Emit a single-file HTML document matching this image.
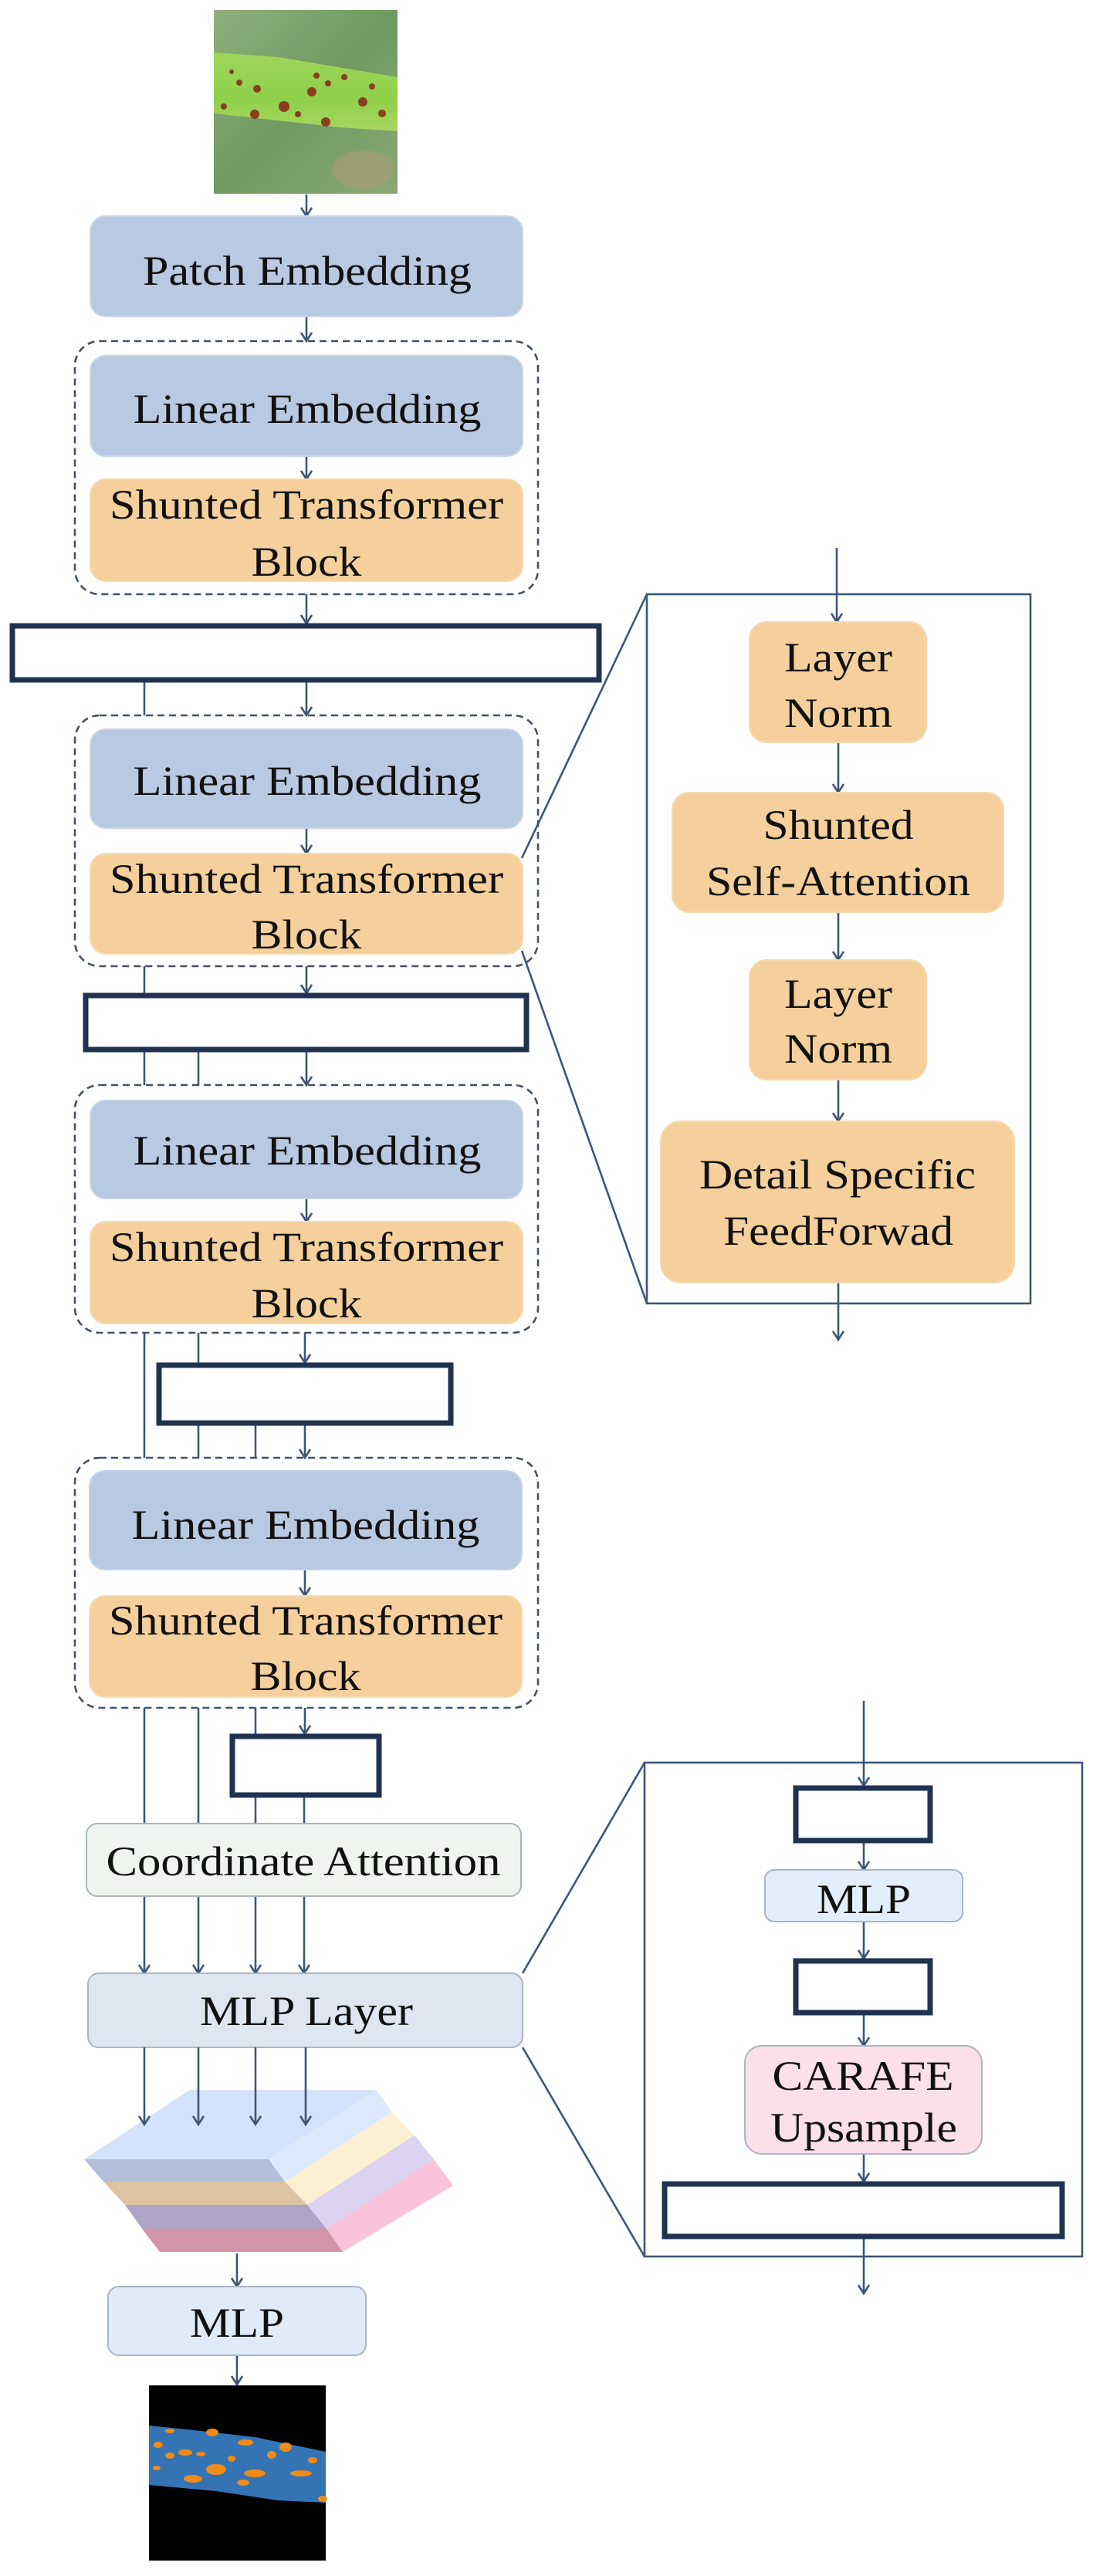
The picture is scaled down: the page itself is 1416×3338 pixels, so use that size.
<!DOCTYPE html>
<html><head><meta charset="utf-8"><style>
html,body{margin:0;padding:0;background:#fff;}
svg{display:block;}
text{font-family:"Liberation Serif",serif;fill:#111;}
</style></head><body>
<svg width="1416" height="3338" viewBox="0 0 1416 3338" xmlns="http://www.w3.org/2000/svg">
<defs>
<marker id="ah" markerWidth="16" markerHeight="18" refX="13" refY="8" orient="auto" markerUnits="userSpaceOnUse" viewBox="0 0 16 16">
<polyline points="2,1 13,8 2,15" fill="none" stroke="#3d5676" stroke-width="2.6"/>
</marker>
<linearGradient id="bg" x1="0" y1="0" x2="1" y2="1">
<stop offset="0" stop-color="#8fb07c"/><stop offset="0.5" stop-color="#6f9a62"/><stop offset="1" stop-color="#8aa872"/>
</linearGradient>
<linearGradient id="leafg" x1="0" y1="0" x2="0" y2="1">
<stop offset="0" stop-color="#9ed65a"/><stop offset="0.6" stop-color="#8fd04a"/><stop offset="1" stop-color="#a9d760"/>
</linearGradient>
</defs>
<g stroke="#3d5676" stroke-width="2.6" fill="none">
<line x1="397" y1="252" x2="397" y2="280" marker-end="url(#ah)"/>
<line x1="397" y1="410" x2="397" y2="442" marker-end="url(#ah)"/>
<line x1="397" y1="591" x2="397" y2="621" marker-end="url(#ah)"/>
<line x1="397" y1="770" x2="397" y2="808" marker-end="url(#ah)"/>
<line x1="397" y1="884" x2="397" y2="927" marker-end="url(#ah)"/>
<line x1="397" y1="1073" x2="397" y2="1106" marker-end="url(#ah)"/>
<line x1="397" y1="1252" x2="397" y2="1287" marker-end="url(#ah)"/>
<line x1="397" y1="1363" x2="397" y2="1406" marker-end="url(#ah)"/>
<line x1="397" y1="1553" x2="397" y2="1583" marker-end="url(#ah)"/>
<line x1="395" y1="1727" x2="395" y2="1766" marker-end="url(#ah)"/>
<line x1="395" y1="1847" x2="395" y2="1889" marker-end="url(#ah)"/>
<line x1="395" y1="2034" x2="395" y2="2068" marker-end="url(#ah)"/>
<line x1="395" y1="2213" x2="395" y2="2247" marker-end="url(#ah)"/>
<line x1="187" y1="884" x2="187" y2="927"/>
<line x1="187" y1="1252" x2="187" y2="1287"/>
<line x1="187" y1="1363" x2="187" y2="1406"/>
<line x1="257" y1="1363" x2="257" y2="1406"/>
<line x1="187" y1="1727" x2="187" y2="1889"/>
<line x1="257" y1="1727" x2="257" y2="1766"/>
<line x1="257" y1="1847" x2="257" y2="1889"/>
<line x1="331" y1="1847" x2="331" y2="1889"/>
<line x1="187" y1="2213" x2="187" y2="2363"/>
<line x1="257" y1="2213" x2="257" y2="2363"/>
<line x1="331" y1="2213" x2="331" y2="2247"/>
<line x1="331" y1="2328" x2="331" y2="2363"/>
<line x1="394" y1="2328" x2="394" y2="2363"/>
<line x1="187" y1="2457" x2="187" y2="2557" marker-end="url(#ah)"/>
<line x1="257" y1="2457" x2="257" y2="2557" marker-end="url(#ah)"/>
<line x1="331" y1="2457" x2="331" y2="2557" marker-end="url(#ah)"/>
<line x1="394" y1="2457" x2="394" y2="2557" marker-end="url(#ah)"/>
<line x1="307" y1="2920" x2="307" y2="2963" marker-end="url(#ah)"/>
<line x1="307" y1="3052" x2="307" y2="3090" marker-end="url(#ah)"/>
<line x1="1084" y1="710" x2="1084" y2="806" marker-end="url(#ah)"/>
<line x1="1086" y1="962" x2="1086" y2="1027" marker-end="url(#ah)"/>
<line x1="1086" y1="1182" x2="1086" y2="1244" marker-end="url(#ah)"/>
<line x1="1086" y1="1399" x2="1086" y2="1453" marker-end="url(#ah)"/>
<line x1="1086" y1="1662" x2="1086" y2="1736" marker-end="url(#ah)"/>
<rect x="838" y="770" width="497" height="919"/>
<line x1="676" y1="1112" x2="838" y2="770"/>
<line x1="676" y1="1232" x2="838" y2="1689"/>
<line x1="1119" y1="2204" x2="1119" y2="2314" marker-end="url(#ah)"/>
<line x1="1119" y1="2388" x2="1119" y2="2423" marker-end="url(#ah)"/>
<line x1="1119" y1="2490" x2="1119" y2="2538" marker-end="url(#ah)"/>
<line x1="1119" y1="2611" x2="1119" y2="2651" marker-end="url(#ah)"/>
<line x1="1119" y1="2791" x2="1119" y2="2827" marker-end="url(#ah)"/>
<line x1="1119" y1="2901" x2="1119" y2="2972" marker-end="url(#ah)"/>
<rect x="835" y="2284" width="567" height="640"/>
<line x1="677" y1="2557" x2="835" y2="2284"/>
<line x1="677" y1="2653" x2="835" y2="2924"/>
</g>

<rect x="277" y="13" width="238" height="238" fill="url(#bg)"/>
<ellipse cx="470" cy="220" rx="40" ry="25" fill="#b39a78" opacity="0.5"/>
<polygon points="277,68 360,74 515,100 515,170 440,165 277,147" fill="url(#leafg)"/>
<g fill="#8a3e1e">
<circle cx="368" cy="138" r="7"/><circle cx="330" cy="148" r="6"/><circle cx="404" cy="119" r="6"/><circle cx="422" cy="158" r="6"/><circle cx="333" cy="115" r="5"/><circle cx="310" cy="107" r="4"/><circle cx="425" cy="108" r="4"/><circle cx="470" cy="132" r="6"/><circle cx="495" cy="147" r="5"/><circle cx="410" cy="98" r="4"/><circle cx="446" cy="100" r="4"/><circle cx="300" cy="93" r="3"/><circle cx="290" cy="138" r="4"/><circle cx="482" cy="112" r="4"/><circle cx="386" cy="148" r="4"/>
</g>

<g fill="none" stroke="#445066" stroke-width="2.6" stroke-dasharray="9 6">
<rect x="97" y="442" width="600" height="328" rx="32"/>
<rect x="97" y="927" width="600" height="325" rx="32"/>
<rect x="97" y="1406" width="600" height="321" rx="32"/>
<rect x="97" y="1889" width="600" height="324" rx="32"/>
</g>

<g fill="#b8c9e2" stroke="#c6d4ea" stroke-width="2">
<rect x="117" y="280" width="560" height="130" rx="20"/>
<rect x="117" y="461" width="560" height="130" rx="20"/>
<rect x="117" y="945" width="560" height="128" rx="20"/>
<rect x="117" y="1426" width="560" height="127" rx="20"/>
<rect x="116" y="1906" width="560" height="128" rx="20"/>
</g>
<g fill="#f5d09c" stroke="#f6d9ae" stroke-width="2">
<rect x="117" y="621" width="560" height="132" rx="20"/>
<rect x="117" y="1106" width="560" height="130" rx="20"/>
<rect x="117" y="1583" width="560" height="132" rx="20"/>
<rect x="116" y="2068" width="560" height="131" rx="20"/>
<rect x="971" y="806" width="229" height="156" rx="22"/>
<rect x="871" y="1027" width="429" height="155" rx="22"/>
<rect x="971" y="1244" width="229" height="155" rx="22"/>
<rect x="856" y="1453" width="458" height="209" rx="26"/>
</g>

<g fill="#fff" stroke="#1f3250" stroke-width="7">
<rect x="16" y="811" width="760" height="70"/>
<rect x="111" y="1290" width="571" height="70"/>
<rect x="206" y="1769" width="378" height="75"/>
<rect x="301" y="2250" width="190" height="76"/>
<rect x="1031" y="2317" width="174" height="68"/>
<rect x="1031" y="2541" width="174" height="67"/>
<rect x="861" y="2830" width="515" height="68"/>
</g>

<rect x="112" y="2363" width="563" height="94" rx="14" fill="#eff5ee" stroke="#aab4c0" stroke-width="2"/>
<rect x="114" y="2557" width="563" height="96" rx="14" fill="#dfe6f1" stroke="#aab4c4" stroke-width="2"/>
<rect x="140" y="2963" width="334" height="89" rx="14" fill="#e0ebf9" stroke="#aab4c4" stroke-width="2"/>
<rect x="991" y="2423" width="256" height="67" rx="12" fill="#e3eefc" stroke="#aab4c4" stroke-width="2"/>
<rect x="965" y="2651" width="307" height="140" rx="22" fill="#fbdfe9" stroke="#aab4c4" stroke-width="2"/>

<polygon points="109,2798 246,2708 487,2708 348,2798" fill="#d3e3fb"/>
<polygon points="348,2798 487,2708 508,2737 369,2827" fill="#dce9fc"/>
<polygon points="369,2827 508,2737 537,2767 398,2857" fill="#fdf0d2"/>
<polygon points="398,2857 537,2767 562,2798 423,2888" fill="#dbd3f0"/>
<polygon points="423,2888 562,2798 587,2832 444,2918" fill="#f9c3da"/>
<polygon points="109,2798 348,2798 369,2827 134,2827" fill="#b1bfda"/>
<polygon points="134,2827 369,2827 398,2857 162,2857" fill="#dcc3a2"/>
<polygon points="162,2857 398,2857 423,2888 184,2888" fill="#aea4c4"/>
<polygon points="184,2888 423,2888 444,2918 207,2918" fill="#d294a8"/>
<g stroke="#3d5676" stroke-width="2.6">
<line x1="187" y1="2653" x2="187" y2="2753" marker-end="url(#ah)"/>
<line x1="257" y1="2653" x2="257" y2="2753" marker-end="url(#ah)"/>
<line x1="331" y1="2653" x2="331" y2="2753" marker-end="url(#ah)"/>
<line x1="396" y1="2653" x2="396" y2="2753" marker-end="url(#ah)"/>
</g>

<rect x="193" y="3091" width="229" height="227" fill="#000"/>
<polygon points="193,3143 260,3150 330,3158 422,3177 422,3243 360,3240 280,3228 193,3220" fill="#3574b4"/>
<g fill="#f08a18">
<ellipse cx="280" cy="3200" rx="13" ry="7"/><ellipse cx="250" cy="3212" rx="12" ry="5"/><ellipse cx="205" cy="3168" rx="6" ry="4"/><ellipse cx="240" cy="3178" rx="9" ry="4"/><ellipse cx="275" cy="3152" rx="8" ry="5"/><ellipse cx="318" cy="3165" rx="10" ry="4"/><ellipse cx="352" cy="3181" rx="6" ry="5"/><ellipse cx="370" cy="3171" rx="8" ry="6"/><ellipse cx="330" cy="3205" rx="14" ry="5"/><ellipse cx="390" cy="3205" rx="14" ry="4"/><ellipse cx="405" cy="3188" rx="6" ry="4"/><ellipse cx="315" cy="3217" rx="8" ry="4"/><ellipse cx="220" cy="3182" rx="6" ry="4"/><ellipse cx="260" cy="3180" rx="6" ry="3"/><ellipse cx="300" cy="3186" rx="5" ry="4"/><ellipse cx="203" cy="3198" rx="5" ry="3"/><ellipse cx="418" cy="3238" rx="6" ry="4"/><ellipse cx="220" cy="3150" rx="6" ry="3"/>
</g>

<g font-size="54" text-anchor="middle">
<text x="398" y="369" textLength="426" lengthAdjust="spacingAndGlyphs">Patch Embedding</text>
<text x="398" y="548" textLength="451" lengthAdjust="spacingAndGlyphs">Linear Embedding</text>
<text x="397" y="672" textLength="510" lengthAdjust="spacingAndGlyphs">Shunted Transformer</text>
<text x="397" y="746" textLength="143" lengthAdjust="spacingAndGlyphs">Block</text>
<text x="398" y="1030" textLength="451" lengthAdjust="spacingAndGlyphs">Linear Embedding</text>
<text x="397" y="1157" textLength="510" lengthAdjust="spacingAndGlyphs">Shunted Transformer</text>
<text x="397" y="1229" textLength="143" lengthAdjust="spacingAndGlyphs">Block</text>
<text x="398" y="1509" textLength="451" lengthAdjust="spacingAndGlyphs">Linear Embedding</text>
<text x="397" y="1634" textLength="510" lengthAdjust="spacingAndGlyphs">Shunted Transformer</text>
<text x="397" y="1707" textLength="143" lengthAdjust="spacingAndGlyphs">Block</text>
<text x="396" y="1994" textLength="451" lengthAdjust="spacingAndGlyphs">Linear Embedding</text>
<text x="396" y="2118" textLength="510" lengthAdjust="spacingAndGlyphs">Shunted Transformer</text>
<text x="396" y="2190" textLength="143" lengthAdjust="spacingAndGlyphs">Block</text>
<text x="1086" y="870" textLength="140" lengthAdjust="spacingAndGlyphs">Layer</text>
<text x="1086" y="942" textLength="140" lengthAdjust="spacingAndGlyphs">Norm</text>
<text x="1086" y="1087" textLength="195" lengthAdjust="spacingAndGlyphs">Shunted</text>
<text x="1086" y="1160" textLength="342" lengthAdjust="spacingAndGlyphs">Self-Attention</text>
<text x="1086" y="1306" textLength="140" lengthAdjust="spacingAndGlyphs">Layer</text>
<text x="1086" y="1377" textLength="140" lengthAdjust="spacingAndGlyphs">Norm</text>
<text x="1085" y="1540" textLength="358" lengthAdjust="spacingAndGlyphs">Detail Specific</text>
<text x="1086" y="1613" textLength="298" lengthAdjust="spacingAndGlyphs">FeedForwad</text>
<text x="393" y="2430" textLength="511" lengthAdjust="spacingAndGlyphs">Coordinate Attention</text>
<text x="397" y="2624" textLength="276" lengthAdjust="spacingAndGlyphs">MLP Layer</text>
<text x="307" y="3028" textLength="122" lengthAdjust="spacingAndGlyphs">MLP</text>
<text x="1119" y="2479" textLength="122" lengthAdjust="spacingAndGlyphs">MLP</text>
<text x="1118" y="2708" textLength="235" lengthAdjust="spacingAndGlyphs">CARAFE</text>
<text x="1119" y="2775" textLength="242" lengthAdjust="spacingAndGlyphs">Upsample</text>
</g>
</svg>
</body></html>
